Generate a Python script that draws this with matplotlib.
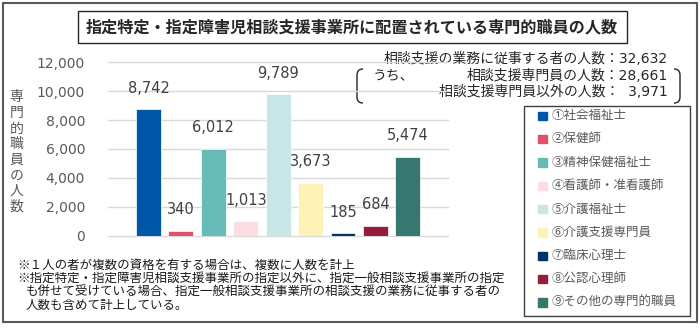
import numpy as np
import matplotlib.pyplot as plt
from matplotlib.patches import Rectangle, PathPatch
from matplotlib.path import Path

JP = ['Noto Sans CJK JP', 'DejaVu Sans']
NUM = ['DejaVu Sans', 'Noto Sans CJK JP']

title = '指定特定・指定障害児相談支援事業所に配置されている専門的職員の人数'
ylabel = '専門的職員の人数'

categories = ['①社会福祉士', '②保健師', '③精神保健福祉士', '④看護師・准看護師',
              '⑤介護福祉士', '⑥介護支援専門員', '⑦臨床心理士', '⑧公認心理師',
              '⑨その他の専門的職員']
counts = [8742, 340, 6012, 1013, 9789, 3673, 185, 684, 5474]
colors = ['#0057a8', '#e0506e', '#66bbb6', '#fddde3', '#c9e6e6',
          '#fdf3b9', '#003366', '#951d3c', '#36776f']
yticks = [0, 2000, 4000, 6000, 8000, 10000, 12000]

summary = ['相談支援の業務に従事する者の人数：32,632',
           '相談支援専門員の人数：28,661',
           '相談支援専門員以外の人数：  3,971']
notes = ['※１人の者が複数の資格を有する場合は、複数に人数を計上',
         '※指定特定・指定障害児相談支援事業所の指定以外に、指定一般相談支援事業所の指定',
         'も併せて受けている場合、指定一般相談支援事業所の相談支援の業務に従事する者の',
         '人数も含めて計上している。']

fig = plt.figure(figsize=(7, 3.3), dpi=100)

# overlay in pixel units (y down) for frames, title and side texts
ov = fig.add_axes([0, 0, 1, 1])
ov.set_xlim(0, 700)
ov.set_ylim(330, 0)
ov.axis('off')

ov.add_patch(Rectangle((3, 3), 694, 319, fill=False, ec='#595959', lw=1.5))
ov.add_patch(Rectangle((78, 11), 549, 32, fill=False, ec='#262626', lw=1.0))
ov.text(352, 27.5, title, ha='center', va='center', fontsize=11.6,
        fontweight='bold', family=JP, color='#262626')

# vertical y label, one character per row
for i, ch in enumerate(ylabel):
    ov.text(16.5, 97 + 15.7 * i, ch, ha='center', va='center', fontsize=10,
            family=JP, color='#595959')

# summary of staff counts with a bracket around the breakdown
for y, s in zip([59, 75.5, 92], summary):
    ov.text(668, y, s, ha='right', va='center', fontsize=10, family=NUM,
            color='#262626')
ov.text(373, 75.5, 'うち、', ha='left', va='center', fontsize=10, family=JP,
        color='#262626')
for x0, d in [(357, 1), (680, -1)]:
    verts = [(x0 + 6 * d, 69), (x0, 69), (x0, 75), (x0, 97), (x0, 103), (x0 + 6 * d, 103)]
    codes = [Path.MOVETO, Path.CURVE3, Path.CURVE3, Path.LINETO, Path.CURVE3, Path.CURVE3]
    ov.add_patch(PathPatch(Path(verts, codes), fill=False, ec='#262626', lw=1.0))

# legend
ov.add_patch(Rectangle((524, 106), 166, 210, fill=False, ec='#404040', lw=1.0))
for i, (lab, c) in enumerate(zip(categories, colors)):
    y = 115.5 + 23.35 * i
    ov.add_patch(Rectangle((538, y - 4), 8.5, 8.5, color=c))
    ov.text(552, y, lab, ha='left', va='center', fontsize=9, family=JP,
            color='#595959')

# footnotes
for (x, y), s in zip([(17, 265), (17, 278.5), (26, 292), (26, 305.5)], notes):
    ov.text(x, y, s, ha='left', va='center', fontsize=9, family=JP,
            color='#1a1a1a')

# bar chart
ax = fig.add_axes([108 / 700, (330 - 235.7) / 330, 340 / 700, 173.4 / 330])
ax.set_facecolor('none')
x = np.arange(len(counts))
ax.bar(x, counts, width=0.77, color=colors, edgecolor='white', linewidth=0.5, zorder=3)
ax.set_xlim(-1.25, 9.24)
ax.set_ylim(0, 12000)
ax.set_xticks([])
ax.set_yticks(yticks)
ax.set_yticklabels([f'{v:,}' for v in yticks], fontsize=10, family=NUM, color='#595959')
ax.tick_params(axis='y', length=0, pad=16.5)
ax.grid(axis='y', color='#d9d9d9', lw=1)
ax.set_axisbelow(True)
for gl in ax.get_ygridlines():
    gl.set_clip_on(False)
for s in ax.spines.values():
    s.set_visible(False)

for xi, v in zip(x, counts):
    ax.annotate(f'{v:,}', (xi, v), xytext=(0, 15), textcoords='offset points',
                ha='center', va='center', fontsize=10.5, family=NUM, color='#404040')

fig.savefig('out.png', dpi=100)
